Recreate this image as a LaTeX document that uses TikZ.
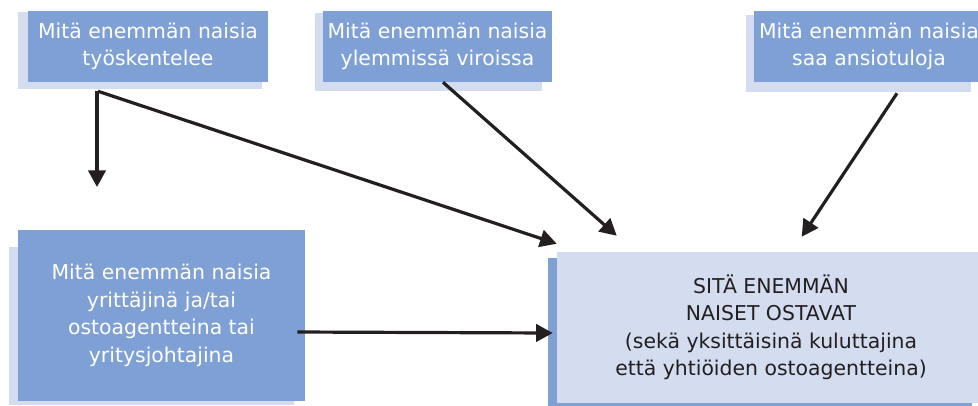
\documentclass[tikz,border=0pt]{standalone}
\usepackage{fontspec}
\setmainfont{DejaVu Sans}
\usetikzlibrary{arrows,arrows.meta,calc,positioning,backgrounds}
\definecolor{boxblue}{HTML}{7EA0D5}
\definecolor{paleblue}{HTML}{D4DCEF}
\definecolor{inkblack}{HTML}{231F20}

\begin{document}
\begin{tikzpicture}[x=0.75pt,y=-0.75pt,>={Triangle[length=12.5pt,width=13pt]},
				cause/.style={fill=boxblue,text=white,align=center,inner sep=0pt,
					font=\fontsize{15.3pt}{20.6pt}\selectfont},
				effect/.style={fill=paleblue,text=inkblack,align=center,inner sep=0pt,
					font=\fontsize{15.3pt}{20.6pt}\selectfont},
				link/.style={->,line width=2.4pt,draw=inkblack}]
				\useasboundingbox (0,0) rectangle (978,405);
				\clip (0,0) rectangle (978,405);

				\node[cause,minimum width=180pt,minimum height=53.25pt] (work) at (148,46.5) {Mitä enemmän naisia\\työskentelee};
				\node[cause,minimum width=171.75pt,minimum height=53.25pt] (higher) at (437.5,46.5) {Mitä enemmän naisia\\ylemmissä viroissa};
				\node[cause,minimum width=172.5pt,minimum height=53.25pt] (income) at (869,46.5) {Mitä enemmän naisia\\saa ansiotuloja};
				\node[cause,minimum width=215.25pt,minimum height=128.25pt] (entre) at (161.5,315.5) {Mitä enemmän naisia\\yrittäjinä ja/tai\\ostoagentteina tai\\yritysjohtajina};
				\node[effect,minimum width=321pt,minimum height=113.25pt] (buy) at (771,327.5) {SITÄ ENEMMÄN\\NAISET OSTAVAT\\(sekä yksittäisinä kuluttajina\\että yhtiöiden ostoagentteina)};
				\coordinate (drop) at (97,187);

				% shadows behind the boxes
				\begin{scope}[on background layer]
					\fill[paleblue] ([shift={(-10,1)}]work.north west) rectangle ([shift={(-6,7)}]work.south east);
					\fill[paleblue] ([shift={(-8,2)}]higher.north west) rectangle ([shift={(-10,9)}]higher.south east);
					\fill[paleblue] ([shift={(-8,4)}]income.north west) rectangle ([shift={(-13,10)}]income.south east);
					\fill[paleblue] ([shift={(-9,17)}]entre.north west) rectangle ([shift={(-11,4)}]entre.south east);
					\fill[boxblue] ([shift={(-9,6)}]buy.north west) rectangle ([shift={(-13,3)}]buy.south east);
				\end{scope}

				\draw[link] ([shift={(-51,9)}]work.south) -- (drop);
				\draw[link] ([shift={(-50,9)}]work.south) -- ([shift={(0,-8)}]buy.north west);
				\draw[link] ([shift={(5.5,0)}]higher.south) -- ([shift={(60,-16)}]buy.north west);
				\draw[link] ([shift={(28,11)}]income.south) -- ([shift={(245,-15)}]buy.north west);
				\draw[link] ([shift={(-8,16.5)}]entre.east) -- ([shift={(-4,5.5)}]buy.west);
\end{tikzpicture}
\end{document}
